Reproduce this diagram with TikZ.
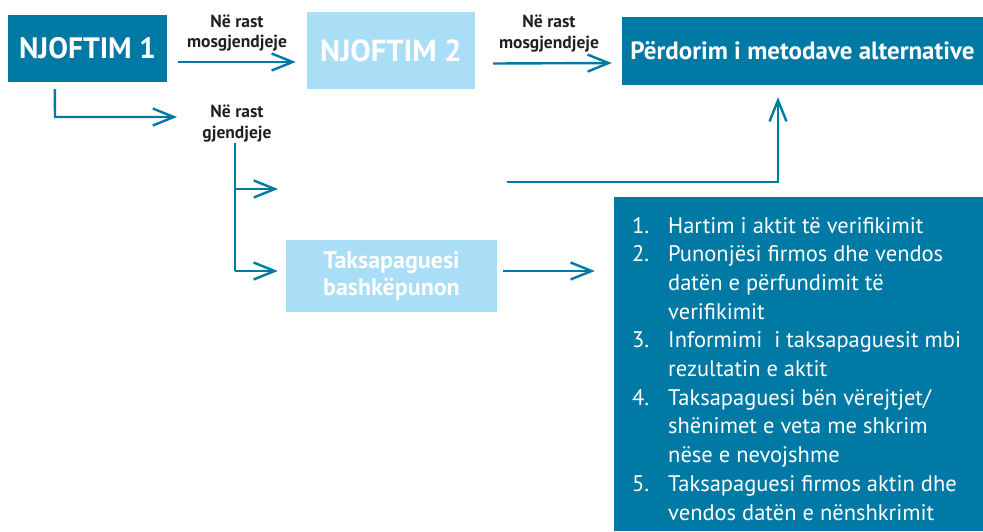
\documentclass[tikz,border=0pt]{standalone}
\usepackage{fontspec}
\setmainfont{PT Sans}
\usetikzlibrary{arrows.meta,calc}
\definecolor{tealA}{HTML}{0079A5}
\definecolor{skyA}{HTML}{A9DEF6}
\definecolor{inkA}{HTML}{231F20}
\begin{document}
\begin{tikzpicture}[x=1pt,y=-1pt,
  darkbox/.style={fill=tealA, text=white, inner sep=0pt, draw=none},
  lightbox/.style={fill=skyA, text=white, inner sep=0pt, draw=none},
  lab/.style={text=inkA, font=\bfseries\fontsize{17.5}{20}\selectfont, inner sep=0pt, anchor=base},
  item/.style={text=white, font=\fontsize{22.5}{26}\selectfont, inner sep=0pt, anchor=base west},
  arr/.style={draw=tealA, line width=2.4pt, -{Straight Barb[length=21pt,width=17pt,line width=2.4pt]}},
  link/.style={draw=tealA, line width=2.4pt}]
\useasboundingbox (0,0) rectangle (983,531);
% boxes
\node[darkbox, minimum width=159pt, minimum height=67pt, font=\bfseries\fontsize{29.5}{32}\selectfont] (n1) at (87.5,48.5) {NJOFTIM 1};
\node[lightbox, minimum width=168pt, minimum height=77pt, font=\bfseries\fontsize{30.5}{32}\selectfont] (n2) at (391,50.5) {NJOFTIM 2};
\node[darkbox, minimum width=361pt, minimum height=68pt, font=\bfseries\fontsize{25}{28}\selectfont] (n3) at (802.5,51) {Përdorim i metodave alternative};
\node[lightbox, minimum width=211pt, minimum height=72pt, align=center, font=\bfseries\fontsize{24}{27}\selectfont] (tk) at (391.5,276) {Taksapaguesi\\bashkëpunon};
\node[darkbox, minimum width=369pt, minimum height=334pt] (lst) at (798.5,364) {};
% labels
\node[lab] (la1) at (237,27) {Në rast};
\node[lab] (la2) at (237,47) {mosgjendjeje};
\node[lab] (lb1) at (549,27) {Në rast};
\node[lab] (lb2) at (549,48) {mosgjendjeje};
\node[lab] (lc1) at (237,117) {Në rast};
\node[lab] (lc2) at (237,138) {gjendjeje};
% list
\foreach \num/\row in {1./0, 2./1, 3./4, 4./6, 5./9}
  \node[item] (num\row) at (632,233.3+28.67*\row) {\num};
\foreach \txt [count=\i from 0] in {Hartim i aktit të verifikimit, Punonjësi firmos dhe vendos, datën e përfundimit të, verifikimit, Informimi\ \ i taksapaguesit mbi, rezultatin e aktit, Taksapaguesi bën vërejtjet/, shënimet e veta me shkrim, nëse e nevojshme, Taksapaguesi firmos aktin dhe, vendos datën e nënshkrimit}
  \node[item] (it\i) at (668,233.3+28.67*\i) {\txt};
% coordinates for connectors
\coordinate (p1) at ($(n1.south west)+(47,7)$);
\coordinate (p2) at (55,117);
\coordinate (p3) at (177,117);
\coordinate (q1) at (235,143);
\coordinate (q2) at (235,189);
\coordinate (q3) at (278,189);
\coordinate (q4) at (235,271);
\coordinate (r1) at (507,182);
\coordinate (r2) at (778,182);
% connectors
\draw[arr] ($(n1.east)+(11,13.5)$) -- ($(n2.west)+(-11,11.5)$);
\draw[arr] ($(n2.east)+(18,13)$) -- ($(n3.west)+(-10,12)$);
\draw[arr] (p1) -- (p2) -- (p3);
\draw[link] (q1) -- (q4);
\draw[arr] (q2) -- (q3);
\draw[arr] (q4) -- ($(tk.west)+(-8,-5)$);
\draw[arr] (r1) -- (r2) -- ($(n3.south)+(-24.5,12)$);
\draw[arr] ($(tk.east)+(6,-5)$) -- ($(lst.west)+(-19,-93)$);
\end{tikzpicture}
\end{document}
